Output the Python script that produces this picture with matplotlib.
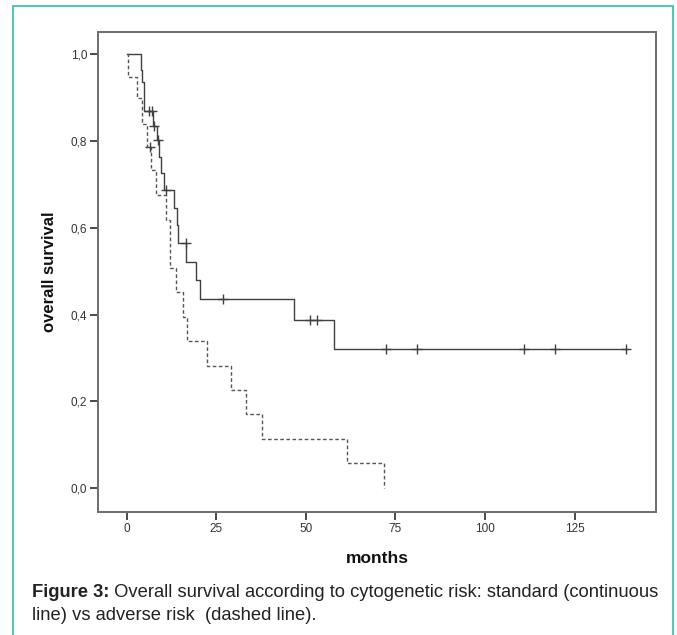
import matplotlib
matplotlib.use("Agg")
import matplotlib.pyplot as plt
from matplotlib.patches import Rectangle

# standard risk (continuous line): event times and survival after each step
std_times = [0, 3.9, 4.2, 4.9, 7.4, 8.5, 9.1, 9.5, 10.5, 13.1, 14.1, 14.3, 16.7, 19.4, 20.4, 46.6, 57.9, 139.5]
std_surv = [1.0, 0.964, 0.937, 0.870, 0.835, 0.803, 0.763, 0.726, 0.687, 0.645, 0.607, 0.564, 0.522, 0.480, 0.435, 0.387, 0.321, 0.321]
std_cens_t = [6.3, 7.2, 7.7, 8.8, 11.1, 16.5, 26.8, 51.1, 53.2, 72.5, 81.0, 110.8, 119.4, 139.3]
std_cens_s = [0.870, 0.870, 0.835, 0.803, 0.687, 0.564, 0.435, 0.387, 0.387, 0.321, 0.321, 0.321, 0.321, 0.321]

# adverse risk (dashed line)
adv_times = [0, 0.5, 2.8, 4.2, 5.6, 6.75, 8.1, 11.1, 12.1, 13.8, 15.7, 16.8, 22.5, 29.0, 33.3, 37.8, 61.4, 71.8]
adv_surv = [1.0, 0.949, 0.899, 0.84, 0.787, 0.734, 0.676, 0.618, 0.507, 0.453, 0.395, 0.339, 0.282, 0.226, 0.170, 0.113, 0.057, 0.0]
adv_cens_t = [6.5]
adv_cens_s = [0.787]

x_ticks = [0, 25, 50, 75, 100, 125]
y_ticks = [0.0, 0.2, 0.4, 0.6, 0.8, 1.0]
y_labels = ['0,0', '0,2', '0,4', '0,6', '0,8', '1,0']

W, H = 677, 635
fig = plt.figure(figsize=(W / 100, H / 100), dpi=100)
ax = fig.add_axes([98.3 / W, 1 - 511.7 / H, (656 - 98.3) / W, (511.7 - 31.5) / H])

line_col = '#404040'
ax.step(std_times, std_surv, where='post', color=line_col, lw=1.0)
ax.plot(std_cens_t, std_cens_s, ls='none', marker='+', ms=7, mew=1.0, color=line_col)
ax.step(adv_times, adv_surv, where='post', color='#555555', lw=1.0, dashes=(2.6, 1.8))
ax.plot(adv_cens_t, adv_cens_s, ls='none', marker='+', ms=7, mew=1.0, color=line_col)

ax.set_xlim(-7.9, 147.7)
ax.set_ylim(-0.055, 1.053)
ax.set_xticks(x_ticks)
ax.set_yticks(y_ticks)
ax.set_yticklabels(y_labels)
for s in ax.spines.values():
    s.set_color('#6e6e6e')
    s.set_linewidth(1.4)
ax.tick_params(direction='out', length=6, width=1.4, color='#4a4a4a',
               labelsize=8.5, labelcolor='#333333', pad=2)
for lab in ax.get_xticklabels() + ax.get_yticklabels():
    lab.set_family('Liberation Sans')

ax.set_xlabel('months', fontsize=12.5, fontweight='bold', family='Liberation Sans',
              color='#111111', labelpad=12)
ax.set_ylabel('overall survival', fontsize=12, fontweight='bold', family='Liberation Sans',
              color='#111111', labelpad=10)

# teal frame around the figure
fig.add_artist(Rectangle((12.7 / W, -0.02), (673.3 - 12.7) / W, 1 - 6 / H + 0.02,
                         transform=fig.transFigure, fill=False, ec='#3cc4b0', lw=1.3))

cap_font = 'Liberation Sans'
t1 = fig.text(32 / W, 1 - 597 / H, 'Figure 3:', fontsize=13.2, fontweight='bold',
              family=cap_font, color='#222222', va='baseline')
ax.annotate(' Overall survival according to cytogenetic risk: standard (continuous',
            xy=(1, 0), xycoords=t1, va='bottom', ha='left', fontsize=13.2,
            family=cap_font, color='#222222', annotation_clip=False)
fig.text(32 / W, 1 - 620 / H, 'line) vs adverse risk  (dashed line).', fontsize=13.2,
         family=cap_font, color='#222222', va='baseline')

fig.savefig('out.png', dpi=100)
